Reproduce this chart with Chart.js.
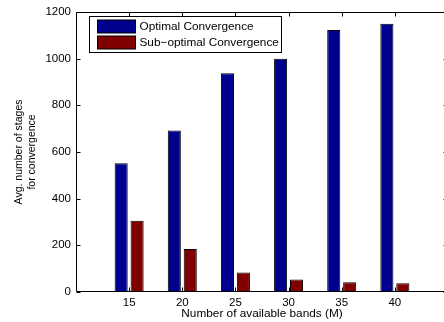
<!DOCTYPE html>
<html>
<head>
<meta charset="utf-8">
<script src="https://cdn.jsdelivr.net/npm/chart.js@4/dist/chart.umd.min.js"></script>
<style>
  html, body { margin: 0; padding: 0; background: #fff; overflow: hidden; width: 444px; height: 322px; }
  #wrap { position: absolute; left: 0; top: 0; width: 452px; height: 322px; }
</style>
</head>
<body>
<div id="wrap"><canvas id="c" width="452" height="322"></canvas></div>
<script>
// Number of available bands (M)
const bands = [15, 20, 25, 30, 35, 40];
// Average number of stages until convergence
const optimalStages = [552, 692, 937, 999, 1122, 1149];
const suboptimalStages = [305, 184, 84, 54, 42, 38];
const seriesNames = ['Optimal Convergence', 'Sub\u2212optimal Convergence'];
const seriesColors = ['#00008f', '#800000'];
const yTicks = [0, 200, 400, 600, 800, 1000, 1200];
const xRange = [10, 45];
const yRange = [0, 1200];

const FONT = '"Liberation Sans", Arial, Helvetica, sans-serif';

// Box around the axes, inward tick marks and a boxed legend inside the plot
const framePlugin = {
  id: 'frame',
  afterDatasetsDraw(chart) {
    const { ctx, chartArea: a, scales: { x, y } } = chart;
    ctx.save();
    ctx.strokeStyle = '#000';
    ctx.lineWidth = 1;
    const L = Math.round(a.left) + 0.5, R = Math.round(a.right) - 0.5;
    const T = Math.round(a.top) + 0.5, B = Math.round(a.bottom) - 0.5;
    const len = 4;
    ctx.beginPath();
    ctx.rect(L, T, R - L, B - T);
    bands.forEach(v => {
      const px = Math.round(x.getPixelForValue(v)) + 0.5;
      ctx.moveTo(px, B); ctx.lineTo(px, B - len);
      ctx.moveTo(px, T); ctx.lineTo(px, T + len);
    });
    yTicks.forEach(v => {
      const py = Math.round(y.getPixelForValue(v)) + 0.5;
      ctx.moveTo(L, py); ctx.lineTo(L + len, py);
      ctx.moveTo(R, py); ctx.lineTo(R - len, py);
    });
    ctx.stroke();

    // legend
    ctx.font = '11.8px ' + FONT;
    const textW = Math.max(...chart.data.datasets.map(d => ctx.measureText(d.label).width));
    const bx = Math.round(a.left) + 13.5, by = Math.round(a.top) + 4.5;
    const sw = 38, sh = 13, rowH = 16;
    const bw = Math.round(8 + sw + 4 + textW + 3), bh = 36;
    ctx.fillStyle = '#fff';
    ctx.fillRect(bx, by, bw, bh);
    ctx.strokeRect(bx, by, bw, bh);
    chart.data.datasets.forEach((d, i) => {
      const sy = by + 3.5 + i * rowH;
      ctx.fillStyle = d.backgroundColor;
      ctx.fillRect(bx + 8, sy, sw, sh);
      ctx.strokeRect(bx + 8, sy, sw, sh);
      ctx.fillStyle = '#000';
      ctx.textBaseline = 'middle';
      ctx.textAlign = 'left';
      ctx.fillText(d.label, bx + 8 + sw + 4, sy + sh / 2 + 0.5);
    });
    ctx.restore();
  }
};

const datasets = [optimalStages, suboptimalStages].map((vals, i) => ({
  label: seriesNames[i],
  data: bands.map((b, j) => ({ x: b, y: vals[j] })),
  backgroundColor: seriesColors[i],
  borderColor: '#000',
  borderWidth: 1,
  categoryPercentage: 0.6,
  barPercentage: 0.82
}));

new Chart(document.getElementById('c'), {
  type: 'bar',
  data: { datasets },
  options: {
    responsive: false,
    animation: false,
    events: [],
    layout: { padding: { top: 10, right: 4, left: 0, bottom: 0 } },
    plugins: { legend: { display: false }, tooltip: { enabled: false } },
    scales: {
      x: {
        type: 'linear',
        offset: false,
        min: xRange[0],
        max: xRange[1],
        grid: { display: false, drawTicks: false },
        border: { display: false },
        ticks: {
          stepSize: 5,
          autoSkip: false,
          maxRotation: 0,
          padding: 4,
          color: '#000',
          font: { family: FONT, size: 11.5 },
          callback: v => (bands.includes(v) ? String(v) : '')
        },
        title: {
          display: true,
          text: 'Number of available bands (M)',
          color: '#000',
          font: { family: FONT, size: 11.8 },
          padding: { top: 0, bottom: 1 }
        },
        afterFit: s => { s.height = 30; }
      },
      y: {
        min: yRange[0],
        max: yRange[1],
        grid: { display: false, drawTicks: false },
        border: { display: false },
        ticks: {
          stepSize: 200,
          padding: 5,
          color: '#000',
          font: { family: FONT, size: 11.5 },
          callback: v => String(v)
        },
        title: {
          display: true,
          text: ['Avg. number of stages', 'for convergence'],
          color: '#000',
          font: { family: FONT, size: 10.5 },
          padding: { top: 13, bottom: 0 }
        },
        afterFit: s => { s.width = 76; }
      }
    }
  },
  plugins: [framePlugin]
});
</script>
</body>
</html>
